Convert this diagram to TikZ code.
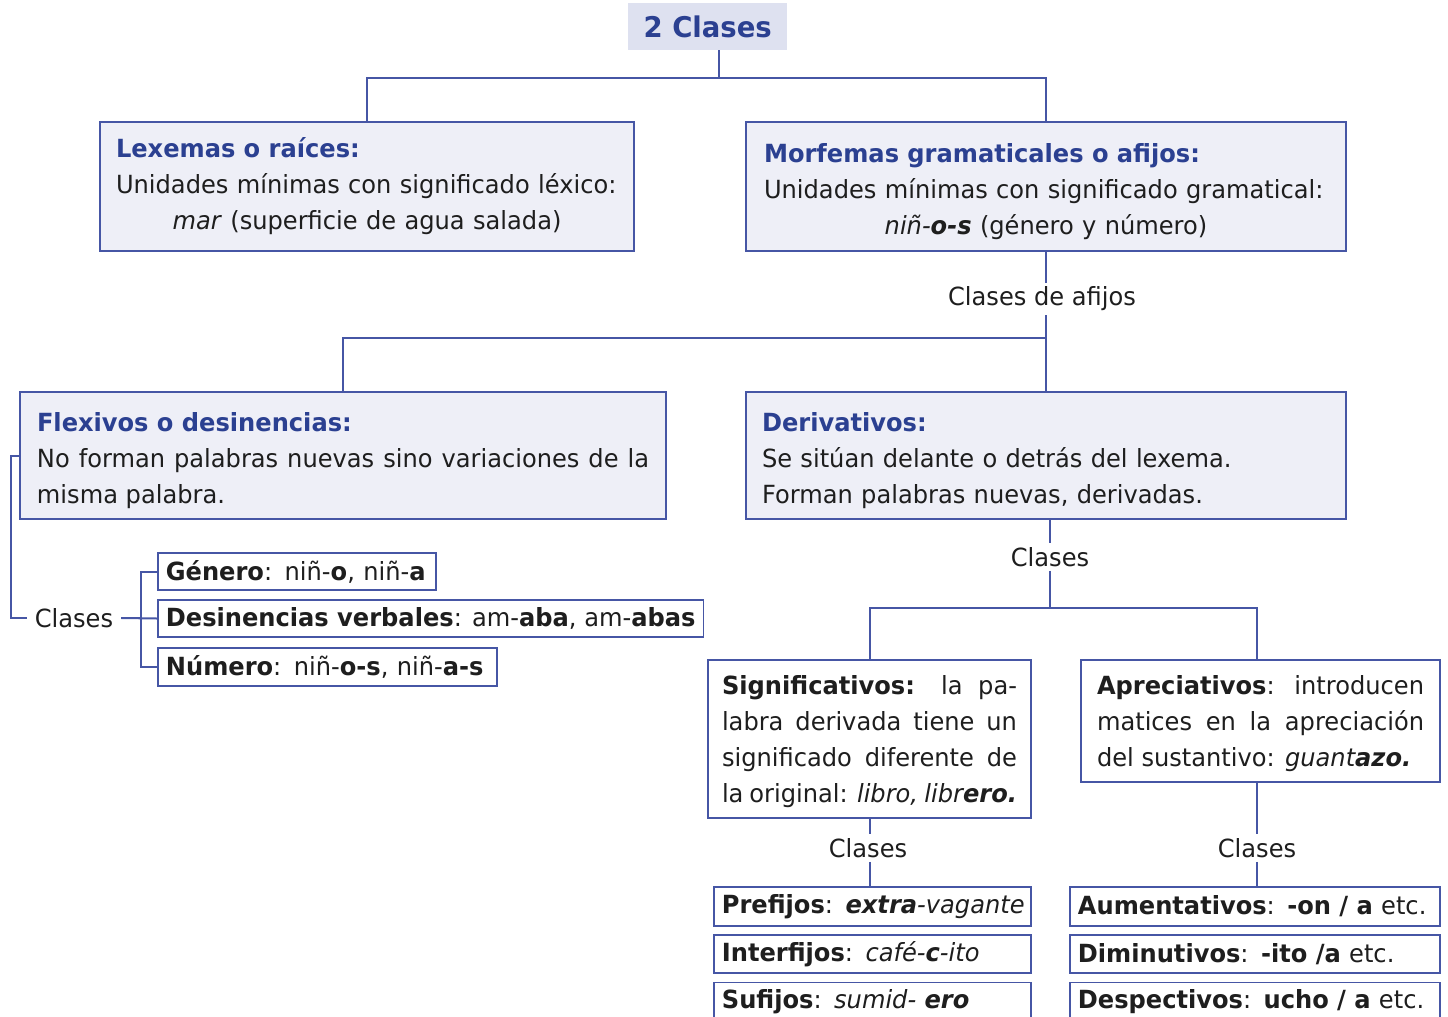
\documentclass[tikz,border=0pt]{standalone}
\usepackage{fontspec}
\setmainfont{DejaVu Sans}[FakeStretch=0.965]
\usetikzlibrary{positioning}
\definecolor{linecol}{RGB}{70,86,165}
\definecolor{headcol}{RGB}{43,64,145}
\definecolor{boxfill}{RGB}{238,239,247}
\definecolor{titlefill}{RGB}{222,225,240}
\definecolor{textcol}{RGB}{30,30,30}

\begin{document}
\begin{tikzpicture}[x=1pt, y=-1pt,
every node/.style={font=\fontsize{25}{36}\selectfont, text=textcol},
mainbox/.style={draw=linecol, line width=2pt, fill=boxfill, anchor=north west, align=left},
whitebox/.style={mainbox, fill=white, align=justify},
leafbox/.style={draw=linecol, line width=1.8pt, fill=white, inner xsep=8pt, inner ysep=3pt, anchor=north west, align=left, minimum height=38pt},
lbl/.style={inner xsep=8pt, inner ysep=4pt},
conn/.style={draw=linecol, line width=2pt},
]
\useasboundingbox (0,0) rectangle (1448,1017);

% title and first level
\node[fill=titlefill, anchor=north west, minimum width=159pt, minimum height=47pt, text=headcol, font=\fontsize{28.5}{34}\selectfont\bfseries] (title) at (628,3) {2 Clases};
\node[mainbox, text width=502pt, inner xsep=16pt, minimum height=129pt] (lex) at (99,121) {\textcolor{headcol}{\textbf{Lexemas o raíces:}}\\ Unidades mínimas con significado léxico:\\ \hspace*{\fill}\textit{mar} (superficie de agua salada)\hspace*{\fill}};
\node[mainbox, text width=564pt, inner xsep=18pt, minimum height=129pt] (morf) at (745,121) {\rule{0pt}{30pt}\textcolor{headcol}{\textbf{Morfemas gramaticales o afijos:}}\\ Unidades mínimas con significado gramatical:\\ \hspace*{\fill}\textit{niñ-}\textbf{\textit{o-s}} (género y número)\hspace*{\fill}};

% second level
\node[lbl] (afijos) at (1042,299) {Clases de afijos};
\node[mainbox, align=justify, text width=612pt, inner xsep=17pt, minimum height=127pt] (flex) at (19,391) {\rule{0pt}{29pt}\textcolor{headcol}{\textbf{Flexivos o desinencias:}}\\ No forman palabras nuevas sino variaciones de la\linebreak misma palabra.};
\node[mainbox, text width=568pt, inner xsep=16pt, minimum height=127pt] (deriv) at (745,391) {\rule{0pt}{29pt}\textcolor{headcol}{\textbf{Derivativos:}}\\ Se sitúan delante o detrás del lexema.\\ Forman palabras nuevas, derivadas.};

% flexivos
\node[lbl] (clF) at (74,618) {Clases};
\node[leafbox, anchor=west, text width=262pt, minimum height=37pt] (gen) at (157,571.5) {\mbox{\textbf{Género}: niñ-\textbf{o}, niñ-\textbf{a}}};
\node[leafbox, anchor=west, minimum height=37pt] (des) at (157,618.5) {\textbf{Desinencias verbales}: am-\textbf{aba}, am-\textbf{abas}};
\node[leafbox, anchor=west, text width=323pt, minimum height=38pt] (num) at (157,667) {\mbox{\textbf{Número}: niñ-\textbf{o-s}, niñ-\textbf{a-s}}};

% derivativos
\node[lbl] (clD) at (1050,557) {Clases};
\node[whitebox, text width=295pt, inner xsep=14pt, minimum height=158pt] (sig) at (707,659) {\rule{0pt}{25pt}\textbf{Significativos:} la pa-\linebreak labra derivada tiene un\linebreak significado diferente de\linebreak la original: \textit{libro, libr\textbf{ero.}}};
\node[whitebox, text width=327pt, inner xsep=16pt, minimum height=122pt] (apre) at (1080,659) {\rule{0pt}{25pt}\textbf{Apreciativos}: introducen\linebreak matices en la apreciación\linebreak del sustantivo: \textit{guant\textbf{azo.}}};

\node[lbl] (clS) at (868,848) {Clases};
\node[leafbox, text width=301pt, minimum height=39pt] (pre) at (713,886) {\mbox{\textbf{Prefijos}: \textbf{\textit{extra}}\textit{-vagante}}};
\node[leafbox, text width=301pt, below=7.5pt of pre.south west, anchor=north west] (inter) {\mbox{\textbf{Interfijos}: \textit{café-\textbf{c}-ito}}};
\node[leafbox, text width=301pt, below=7.5pt of inter.south west, anchor=north west] (suf) {\mbox{\textbf{Sufijos}: \textit{sumid- \textbf{ero}}}};

\node[lbl] (clA) at (1257,848) {Clases};
\node[leafbox, text width=354pt, minimum height=39pt] (aum) at (1069,886) {\mbox{\textbf{Aumentativos}: \textbf{-on / a} etc.}};
\node[leafbox, text width=354pt, below=7.5pt of aum.south west, anchor=north west] (dim) {\mbox{\textbf{Diminutivos}: \textbf{-ito /a} etc.}};
\node[leafbox, text width=354pt, below=7.5pt of dim.south west, anchor=north west] (desp) {\mbox{\textbf{Despectivos}: \textbf{ucho / a} etc.}};

% connectors
\draw[conn] ([xshift=11pt]title.south) -- ++(0,28) -| (lex.north);
\draw[conn] ([xshift=11pt]title.south) -- ++(0,28) -| (morf.north);
\draw[conn] (morf.south) -- (morf.south |- afijos.north);
\draw[conn] (afijos.south -| deriv.north) -- (deriv.north);
\draw[conn] (flex.north) -- ++(0,-53) -| (deriv.north);
\draw[conn] (flex.west) -- ++(-8,0) |- (clF.west);
\draw[conn] (clF.east) -- ++(20,0) |- (gen.west);
\draw[conn] (clF.east) -- ++(20,0) |- (num.west);
\draw[conn] (clF.east) -- (des.west);
\draw[conn] (deriv.south -| clD.north) -- (clD.north);
\draw[conn] (clD.south) -- ++(0,37) -| (clA.north |- apre.north);
\draw[conn] (clD.south) -- ++(0,37) -| (sig.north);
\draw[conn] (sig.south) -- (sig.south |- clS.north);
\draw[conn] (clS.south -| sig.south) -- (sig.south |- pre.north);
\draw[conn] (clA.north |- apre.south) -- (clA.north);
\draw[conn] (clA.south) -- (clA.south |- aum.north);
\end{tikzpicture}
\end{document}
